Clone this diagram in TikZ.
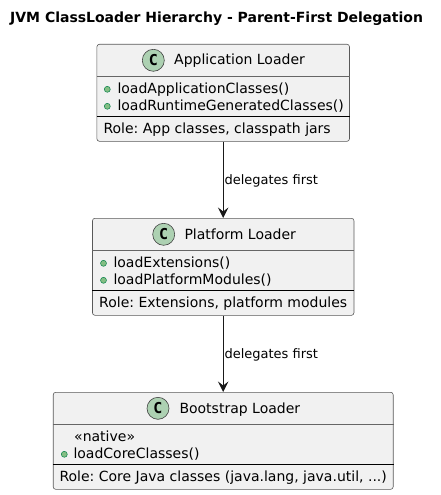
\documentclass[tikz,border=0pt]{standalone}
\usepackage{fontspec}
\setmainfont{DejaVu Sans}
\newfontfamily\spotfont{DejaVu Sans Mono}
\usepackage{tikz}
\usetikzlibrary{arrows.meta,positioning}

\begin{document}
\frenchspacing
\begin{tikzpicture}[x=1pt,y=-1pt,line join=round,
    classbox/.style={draw=black!65,fill=black!5.5,line width=0.6pt,rounded corners=2.5pt,inner sep=0pt,minimum height=97pt},
    spot/.style={circle,draw=black!75,fill=spotgreen,line width=0.6pt,inner sep=0pt,minimum size=22pt,font=\fontsize{15}{16}\spotfont\bfseries\selectfont},
    dotmark/.style={circle,draw=dotline,fill=dotfill,line width=0.5pt,inner sep=0pt,minimum size=6pt},
    txt/.style={anchor=base west,inner sep=0pt,font=\fontsize{14}{16}\selectfont},
    edgetxt/.style={anchor=base west,inner sep=0pt,font=\fontsize{13}{15}\selectfont},
    headrule/.style={draw=black!60,line width=0.5pt},
    rolerule/.style={draw=black,line width=0.9pt},
    link/.style={draw=black!90,line width=0.9pt,-{Stealth[length=10.5pt,width=10.5pt,inset=4pt]}}]
\definecolor{spotgreen}{HTML}{ADD1B2}
\definecolor{dotfill}{HTML}{84BE84}
\definecolor{dotline}{HTML}{038048}

\useasboundingbox (0,0) rectangle (440,495);

\node[anchor=base,inner sep=0pt,font=\fontsize{14}{16}\bfseries\selectfont] (title) at (216.6,23) {JVM ClassLoader Hierarchy - Parent-First Delegation};

% application
\node[classbox,minimum width=252.6pt] (app) at (223.2,92.8) {};
\draw[headrule] (app.west |- 0,76.3) -- (app.east |- 0,76.3);
\draw[rolerule] (app.west |- 0,116.3) -- (app.east |- 0,116.3);
\node[spot] (appspot) at (153.3,60.3) {C};
\node[txt] (apptitle) at (174,65) {Application Loader};
\node[dotmark] (appdot1) at (107.3,89.3) {};
\node[txt] (appm1) at (117.3,93.5) {loadApplicationClasses()};
\node[dotmark] (appdot2) at (107.3,106.3) {};
\node[txt] (appm2) at (117.3,110.5) {loadRuntimeGeneratedClasses()};
\node[txt] (approle) at (103.3,133.5) {Role: App classes, classpath jars};

% platform
\node[classbox,minimum width=261.5pt] (plat) at (223.2,266.8) {};
\draw[headrule] (plat.west |- 0,250.3) -- (plat.east |- 0,250.3);
\draw[rolerule] (plat.west |- 0,290.3) -- (plat.east |- 0,290.3);
\node[spot] (platspot) at (163.7,234.3) {C};
\node[txt] (plattitle) at (184.3,239) {Platform Loader};
\node[dotmark] (platdot1) at (103.5,263.3) {};
\node[txt] (platm1) at (113.3,267.5) {loadExtensions()};
\node[dotmark] (platdot2) at (103.5,280.3) {};
\node[txt] (platm2) at (113.3,284.5) {loadPlatformModules()};
\node[txt] (platrole) at (99,307.5) {Role: Extensions, platform modules};

% bootstrap
\node[classbox,minimum width=340pt] (boot) at (223.2,440.8) {};
\draw[headrule] (boot.west |- 0,424.3) -- (boot.east |- 0,424.3);
\draw[rolerule] (boot.west |- 0,464.3) -- (boot.east |- 0,464.3);
\node[spot] (bootspot) at (158,408.3) {C};
\node[txt] (boottitle) at (179.3,413) {Bootstrap Loader};
\node[txt] (bootnative) at (74,441.5) {«native»};
\node[dotmark] (bootdot) at (64.3,454.3) {};
\node[txt] (bootm) at (73.3,458.5) {loadCoreClasses()};
\node[txt] (bootrole) at (59.3,481.5) {Role: Core Java classes (java.lang, java.util, ...)};

\draw[link] (app.south) -- (plat.north);
\draw[link] (plat.south) -- (boot.north);
\node[edgetxt] (applabel) at (224.3,184) {delegates first};
\node[edgetxt] (platlabel) at (224.3,358) {delegates first};

\end{tikzpicture}
\end{document}
